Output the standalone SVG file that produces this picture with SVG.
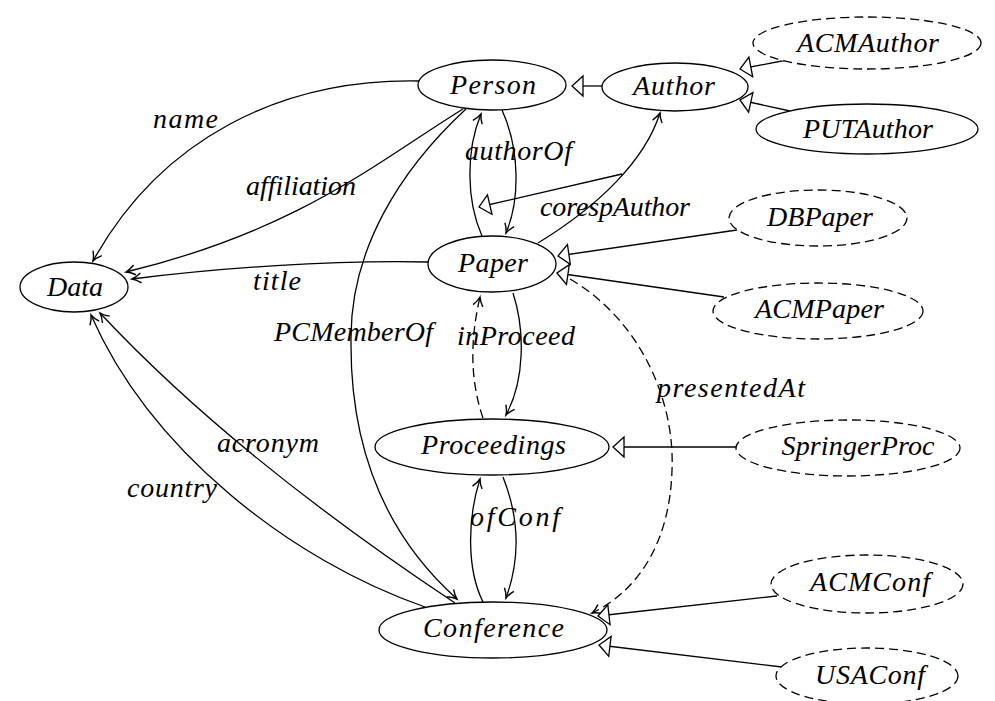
<svg xmlns="http://www.w3.org/2000/svg" width="995" height="701" viewBox="0 0 995 701">
<style>
.n{fill:#fff;stroke:#000;stroke-width:1.3}
.d{stroke-dasharray:9 5}
.t{font-family:'Liberation Serif','Times New Roman',serif;font-style:italic;font-size:28px;fill:#000;text-anchor:middle}
.e{fill:none;stroke:#000;stroke-width:1.3}
.a{marker-end:url(#arr)}
.s{marker-end:url(#tri)}
</style>
<defs>
<marker id="arr" markerUnits="userSpaceOnUse" viewBox="-10 -6 12 12" markerWidth="12" markerHeight="12" refX="0" refY="0" orient="auto" overflow="visible">
<path d="M-9,-5 C-5.5,-2.2 -2,-0.6 0,0 C-2,0.6 -5.5,2.2 -9,5" fill="none" stroke="#000" stroke-width="1.4"/>
</marker>
<marker id="tri" markerUnits="userSpaceOnUse" viewBox="-12 -11 14 22" markerWidth="14" markerHeight="22" refX="0" refY="0" orient="auto" overflow="visible">
<path d="M0,0 L-11,-10 L-11,10 Z" fill="#fff" stroke="#000" stroke-width="1.3" stroke-linejoin="miter"/>
</marker>
</defs>
<g id="connectors">
<path class="e a" d="M420 81 C280 78 160 140 93 261"/>
<path class="e a" d="M463 109 C380 160 300 230 126 272"/>
<path class="e a" d="M428 262 C330 260 220 268 132 279"/>
<path class="e a" d="M482 236 C466 200 466 150 481 114"/>
<path class="e a" d="M502 110 C520 150 520 200 506 233"/>
<path class="e a" d="M538 243 C600 205 645 160 660 113"/>
<path class="e a" d="M466 109 C400 170 350 250 351 340 C350 440 380 530 457 599"/>
<path class="e a" d="M513 293 C525 330 525 380 506 415"/>
<path class="e a d" d="M483 418 C470 380 470 340 480 297"/>
<path class="e a" d="M483 602 C467 570 467 520 480 479"/>
<path class="e a" d="M503 477 C520 520 520 560 506 598"/>
<path class="e a" d="M455 603 C330 520 200 420 100 313"/>
<path class="e a" d="M425 607 C290 560 150 450 91 315"/>
<path class="e a d" d="M570 279 C640 320 675 400 672 470 C670 540 640 590 592 613"/>
<path class="e s" d="M602 86 L572 86"/>
<path class="e s" d="M787 60 L740 69"/>
<path class="e s" d="M790 111 L740 100"/>
<path class="e s" d="M737 230 L558 256"/>
<path class="e s" d="M724 297 L557 273"/>
<path class="e s" d="M737 447 L613 447"/>
<path class="e s" d="M777 596 L598 616"/>
<path class="e s" d="M782 667 L599 645"/>
<path class="e s" d="M622 174 L479 207"/>
</g>
<g id="edge-labels">
<text class="t" x="185.5" y="128" textLength="65" lengthAdjust="spacing">name</text>
<text class="t" x="301" y="195" textLength="110" lengthAdjust="spacing">affiliation</text>
<text class="t" x="277" y="290" textLength="48" lengthAdjust="spacing">title</text>
<text class="t" x="518.5" y="160" textLength="107" lengthAdjust="spacing">authorOf</text>
<text class="t" x="615" y="216" textLength="150" lengthAdjust="spacing">corespAuthor</text>
<text class="t" x="353.5" y="341" textLength="159" lengthAdjust="spacing">PCMemberOf</text>
<text class="t" x="516" y="345" textLength="118" lengthAdjust="spacing">inProceed</text>
<text class="t" x="268" y="452" textLength="102" lengthAdjust="spacing">acronym</text>
<text class="t" x="172" y="497" textLength="90" lengthAdjust="spacing">country</text>
<text class="t" x="731" y="397" textLength="148" lengthAdjust="spacing">presentedAt</text>
<text class="t" x="515" y="526" textLength="90" lengthAdjust="spacing">ofConf</text>
</g>
<g id="Person"><ellipse class="n" cx="492" cy="85" rx="74" ry="25"/><text class="t" x="493" y="94" textLength="86" lengthAdjust="spacing">Person</text></g>
<g id="Author"><ellipse class="n" cx="675" cy="87" rx="73" ry="24"/><text class="t" x="674" y="95" textLength="82" lengthAdjust="spacing">Author</text></g>
<g id="ACMAuthor"><ellipse class="n d" cx="867" cy="43" rx="114" ry="26"/><text class="t" x="868" y="52" textLength="142" lengthAdjust="spacing">ACMAuthor</text></g>
<g id="PUTAuthor"><ellipse class="n" cx="867" cy="129" rx="111" ry="25"/><text class="t" x="868" y="138" textLength="130" lengthAdjust="spacing">PUTAuthor</text></g>
<g id="Data"><ellipse class="n" cx="74" cy="287" rx="54" ry="25"/><text class="t" x="75" y="296" textLength="56" lengthAdjust="spacing">Data</text></g>
<g id="Paper"><ellipse class="n" cx="492" cy="264" rx="64" ry="28"/><text class="t" x="493" y="272" textLength="70" lengthAdjust="spacing">Paper</text></g>
<g id="DBPaper"><ellipse class="n d" cx="818" cy="218" rx="89" ry="28"/><text class="t" x="820" y="226" textLength="106" lengthAdjust="spacing">DBPaper</text></g>
<g id="ACMPaper"><ellipse class="n d" cx="818" cy="311" rx="105" ry="28"/><text class="t" x="819.5" y="318" textLength="129" lengthAdjust="spacing">ACMPaper</text></g>
<g id="Proceedings"><ellipse class="n" cx="492" cy="447" rx="117" ry="28"/><text class="t" x="493.5" y="454" textLength="145" lengthAdjust="spacing">Proceedings</text></g>
<g id="SpringerProc"><ellipse class="n d" cx="848" cy="448" rx="112" ry="28"/><text class="t" x="858" y="455" textLength="153" lengthAdjust="spacing">SpringerProc</text></g>
<g id="Conference"><ellipse class="n" cx="493" cy="630" rx="114" ry="28"/><text class="t" x="493.5" y="637" textLength="141" lengthAdjust="spacing">Conference</text></g>
<g id="ACMConf"><ellipse class="n d" cx="867" cy="584" rx="96" ry="29"/><text class="t" x="870" y="591" textLength="120" lengthAdjust="spacing">ACMConf</text></g>
<g id="USAConf"><ellipse class="n d" cx="867" cy="676" rx="91" ry="28"/><text class="t" x="870" y="684" textLength="110" lengthAdjust="spacing">USAConf</text></g>
</svg>
